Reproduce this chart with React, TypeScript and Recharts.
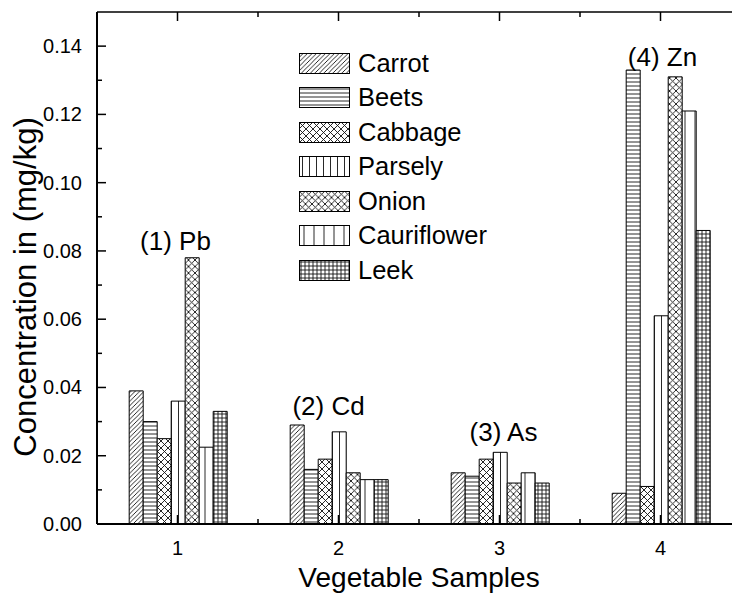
import React from 'react';
import { BarChart, Bar, XAxis, YAxis, Legend, ReferenceDot } from 'recharts';

// vegetable samples (x categories)
const samples = ['1', '2', '3', '4'];

// concentrations in mg/kg
const carrot = [0.039, 0.029, 0.015, 0.009];
const beets = [0.03, 0.016, 0.014, 0.133];
const cabbage = [0.025, 0.019, 0.019, 0.011];
const parsely = [0.036, 0.027, 0.021, 0.061];
const onion = [0.078, 0.015, 0.012, 0.131];
const cauriflower = [0.0225, 0.013, 0.015, 0.121];
const leek = [0.033, 0.013, 0.012, 0.086];

const seriesNames = ['Carrot', 'Beets', 'Cabbage', 'Parsely', 'Onion', 'Cauriflower', 'Leek'];
const seriesKeys = ['carrot', 'beets', 'cabbage', 'parsely', 'onion', 'cauriflower', 'leek'];
const patternIds = ['pCarrot', 'pBeets', 'pCabbage', 'pParsely', 'pOnion', 'pCauri', 'pLeek'];

// metal labels above each group
const metals = ['(1) Pb', '(2) Cd', '(3) As', '(4) Zn'];
const metalLabelY = [0.083, 0.0346, 0.027, 0.137];
const metalLabelDx = [-2, -10, 4, 2];

const yTicks = [0, 0.01, 0.02, 0.03, 0.04, 0.05, 0.06, 0.07, 0.08, 0.09, 0.1, 0.11, 0.12, 0.13, 0.14];
const xTicks = [1, 1.5, 2, 2.5, 3, 3.5, 4];

const data = samples.map((s, i) => ({
  sample: s,
  x: i + 1,
  carrot: carrot[i],
  beets: beets[i],
  cabbage: cabbage[i],
  parsely: parsely[i],
  onion: onion[i],
  cauriflower: cauriflower[i],
  leek: leek[i],
}));

const FONT = '"Liberation Sans", Arial, sans-serif';
const INK = '#111';

const isMajorY = (v: number) => Math.round(v * 100) % 2 === 0;
const isMajorX = (v: number) => Number.isInteger(v);

const LeftTick = (props: any) => {
  const { x, y, payload } = props;
  const axisX = x + 15;
  const v = payload.value;
  const major = isMajorY(v);
  return (
    <g>
      <line x1={axisX} x2={axisX + (major ? 9 : 5)} y1={y} y2={y} stroke="#000" strokeWidth={1.5} />
      {major && (
        <text x={x} y={y + 7} textAnchor="end" fontSize={20} fontFamily={FONT} fill="#000">
          {v.toFixed(2)}
        </text>
      )}
    </g>
  );
};

const RightTick = (props: any) => {
  const { x, y, payload } = props;
  const major = isMajorY(payload.value);
  return <line x1={x} x2={x - (major ? 9 : 5)} y1={y} y2={y} stroke="#000" strokeWidth={1.5} />;
};

const BottomTick = (props: any) => {
  const { x, y, payload } = props;
  const major = isMajorX(payload.value);
  return (
    <g>
      <line x1={x} x2={x} y1={y} y2={y - (major ? 9 : 5)} stroke="#000" strokeWidth={1.5} />
      {major && (
        <text x={x} y={y + 31} textAnchor="middle" fontSize={20} fontFamily={FONT} fill="#000">
          {payload.value}
        </text>
      )}
    </g>
  );
};

const TopTick = (props: any) => {
  const { x, y, payload } = props;
  const major = isMajorX(payload.value);
  return <line x1={x} x2={x} y1={y} y2={y + (major ? 9 : 5)} stroke="#000" strokeWidth={1.5} />;
};

const Patterns = () => (
  <svg width={0} height={0} style={{ position: 'absolute' }}>
    <defs>
      <pattern id="pCarrot" patternUnits="userSpaceOnUse" width={4.5} height={4.5}>
        <rect width={4.5} height={4.5} fill="#fff" />
        <path d="M0,4.5 L4.5,0 M-1,1 L1,-1 M3.5,5.5 L5.5,3.5" stroke={INK} strokeWidth={0.9} />
      </pattern>
      <pattern id="pBeets" patternUnits="userSpaceOnUse" width={4} height={4}>
        <rect width={4} height={4} fill="#fff" />
        <line x1={0} x2={4} y1={2} y2={2} stroke={INK} strokeWidth={0.9} />
      </pattern>
      <pattern id="pCabbage" patternUnits="userSpaceOnUse" width={7} height={7}>
        <rect width={7} height={7} fill="#fff" />
        <path d="M0,0 L7,7 M7,0 L0,7" stroke={INK} strokeWidth={0.9} />
      </pattern>
      <pattern id="pParsely" patternUnits="userSpaceOnUse" width={7} height={7}>
        <rect width={7} height={7} fill="#fff" />
        <line x1={3.5} x2={3.5} y1={0} y2={7} stroke={INK} strokeWidth={0.9} />
      </pattern>
      <pattern id="pOnion" patternUnits="userSpaceOnUse" width={6.5} height={6.5}>
        <rect width={6.5} height={6.5} fill="#fff" />
        <path d="M0,0 L6.5,6.5 M6.5,0 L0,6.5" stroke={INK} strokeWidth={0.9} />
      </pattern>
      <pattern id="pCauri" patternUnits="userSpaceOnUse" width={10} height={10}>
        <rect width={10} height={10} fill="#fff" />
        <line x1={5} x2={5} y1={0} y2={10} stroke={INK} strokeWidth={0.9} />
      </pattern>
      <pattern id="pLeek" patternUnits="userSpaceOnUse" width={4} height={4}>
        <rect width={4} height={4} fill="#fff" />
        <path d="M0,2 L4,2 M2,0 L2,4" stroke={INK} strokeWidth={0.9} />
      </pattern>
    </defs>
  </svg>
);

const renderLegend = () => (
  <div style={{ fontFamily: FONT, fontSize: 25.5, color: '#000' }}>
    {seriesNames.map((name, i) => (
      <div key={name} style={{ display: 'flex', alignItems: 'center', height: 34.5 }}>
        <svg width={51} height={21} style={{ marginRight: 8 }}>
          <rect x={0.5} y={0.5} width={50} height={20} fill={`url(#${patternIds[i]})`} stroke="#000" strokeWidth={1} />
        </svg>
        <span style={{ whiteSpace: 'nowrap' }}>{name}</span>
      </div>
    ))}
  </div>
);

const YLabel = (props: any) => {
  const { viewBox } = props;
  const cx = viewBox.x + 36;
  const cy = viewBox.y + viewBox.height / 2 + 19;
  return (
    <text
      transform={`translate(${cx},${cy}) rotate(-90)`}
      textAnchor="middle"
      fontSize={31}
      fontFamily={FONT}
      fill="#000"
    >
      Concentration in (mg/kg)
    </text>
  );
};

export default function App() {
  return (
    <div
      style={{
        position: 'fixed',
        left: 0,
        top: 0,
        width: 732,
        height: 595,
        overflow: 'hidden',
        background: '#fff',
      }}
    >
      <Patterns />
      <BarChart
        width={760}
        height={595}
        data={data}
        margin={{ top: 0, right: 0, bottom: 0, left: 0 }}
        barCategoryGap="20%"
        barGap={0}
      >
        <XAxis xAxisId="cat" dataKey="sample" hide height={0} />
        <XAxis
          xAxisId="num"
          dataKey="x"
          type="number"
          domain={[0.5, 4.5]}
          ticks={xTicks}
          interval={0}
          height={71}
          axisLine={{ stroke: '#000', strokeWidth: 2 }}
          tickLine={false}
          tickSize={0}
          tickMargin={0}
          tick={<BottomTick />}
          label={{
            value: 'Vegetable Samples',
            position: 'insideBottom',
            offset: 8,
            fontSize: 28,
            fontFamily: FONT,
            fill: '#000',
          }}
        />
        <XAxis
          xAxisId="top"
          dataKey="x"
          type="number"
          orientation="top"
          domain={[0.5, 4.5]}
          ticks={xTicks}
          interval={0}
          height={12}
          axisLine={{ stroke: '#000', strokeWidth: 1.5 }}
          tickLine={false}
          tickSize={0}
          tickMargin={0}
          tick={<TopTick />}
        />
        <YAxis
          yAxisId="left"
          domain={[0, 0.15]}
          ticks={yTicks}
          interval={0}
          width={97}
          axisLine={{ stroke: '#000', strokeWidth: 2 }}
          tickLine={false}
          tickSize={0}
          tickMargin={15}
          tick={<LeftTick />}
          label={{ content: <YLabel /> }}
        />
        <YAxis
          yAxisId="right"
          orientation="right"
          domain={[0, 0.15]}
          ticks={yTicks}
          interval={0}
          width={19}
          axisLine={{ stroke: '#000', strokeWidth: 1.5 }}
          tickLine={false}
          tickSize={0}
          tickMargin={0}
          tick={<RightTick />}
        />
        <Legend
          layout="vertical"
          align="center"
          verticalAlign="middle"
          wrapperStyle={{ left: 299, top: 46, width: 240, height: 'auto' }}
          content={renderLegend}
        />
        {seriesKeys.map((k, i) => (
          <Bar
            key={k}
            xAxisId="cat"
            yAxisId="left"
            dataKey={k}
            name={seriesNames[i]}
            fill={`url(#${patternIds[i]})`}
            stroke="#000"
            strokeWidth={1}
            isAnimationActive={false}
          />
        ))}
        {metals.map((m, i) => (
          <ReferenceDot
            key={m}
            xAxisId="cat"
            yAxisId="left"
            x={samples[i]}
            y={metalLabelY[i]}
            r={0}
            fill="none"
            stroke="none"
            label={{
              value: m,
              position: 'center',
              dx: metalLabelDx[i],
              fontSize: 26,
              fontFamily: FONT,
              fill: '#000',
            }}
          />
        ))}
      </BarChart>
    </div>
  );
}
